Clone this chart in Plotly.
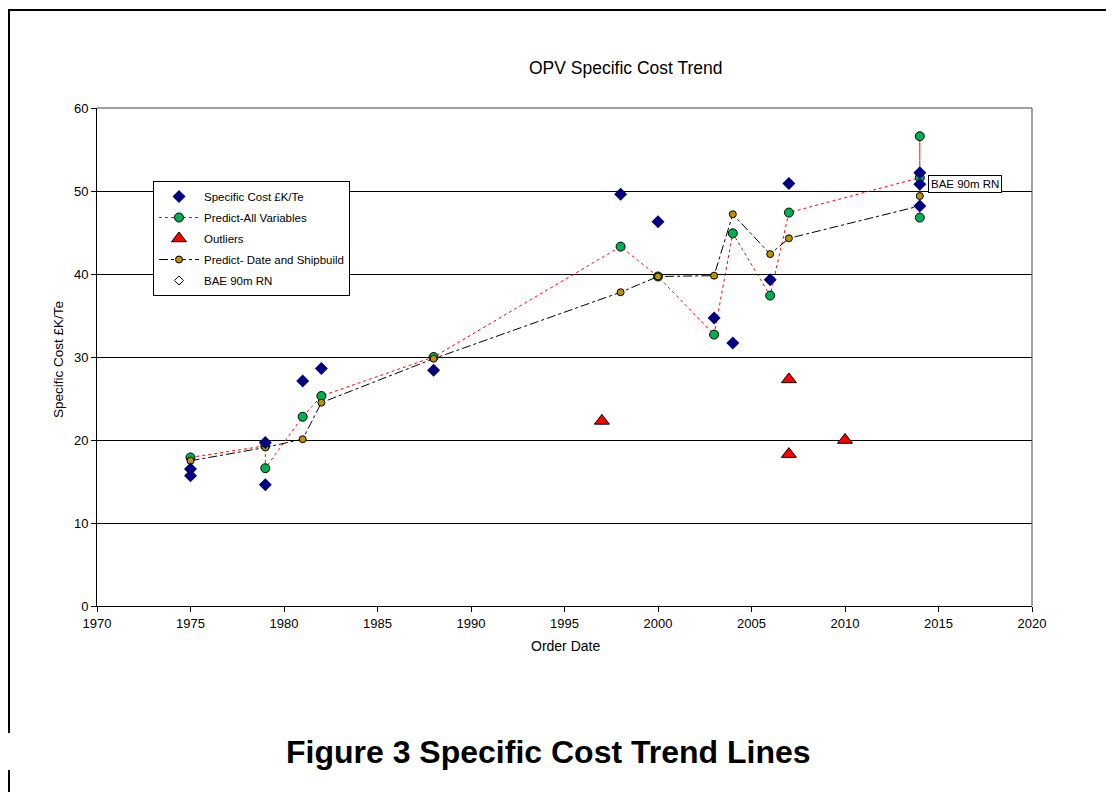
import plotly.graph_objects as go

# ─── Data ────────────────────────────────────────────────────
cost_year = [1975, 1975, 1979, 1979, 1981, 1982, 1988, 1998, 2000, 2003, 2004, 2006, 2007, 2014, 2014, 2014]
cost_val = [16.5, 15.7, 19.7, 14.6, 27.1, 28.6, 28.4, 49.6, 46.3, 34.7, 31.7, 39.3, 50.9, 52.2, 50.8, 48.2]

all_year = [1975, 1979, 1979, 1981, 1982, 1988, 1998, 2000, 2003, 2004, 2006, 2007, 2014, 2014, 2014]
all_val = [17.9, 19.3, 16.6, 22.8, 25.3, 30.0, 43.3, 39.7, 32.7, 44.9, 37.4, 47.4, 51.6, 56.6, 46.8]

out_year = [1997, 2007, 2007, 2010]
out_val = [22.3, 27.3, 18.3, 20.0]

date_year = [1975, 1979, 1981, 1982, 1988, 1998, 2000, 2003, 2004, 2006, 2007, 2014, 2014]
date_val = [17.5, 19.1, 20.1, 24.5, 29.8, 37.8, 39.7, 39.8, 47.2, 42.4, 44.3, 48.2, 49.4]

bae_year = [2014]
bae_val = [50.8]

# page offsets the figure by 8px; plot area on screen: x 97..1032, y 108..606
OFF = 8


def px(x):
    return (x - 97) / 935


def py(y):
    return (606 - y) / 498


fig = go.Figure()

fig.add_trace(go.Scatter(
    x=all_year, y=all_val, name='Predict-All Variables', mode='lines+markers',
    line=dict(color='#FF0000', width=1, dash='dot'),
    marker=dict(symbol='circle', size=9, color='#00B050', line=dict(color='black', width=1)),
    legendrank=2, legendgroup='b'
))
fig.add_trace(go.Scatter(
    x=date_year, y=date_val, name='Predict- Date and Shipbuild', mode='lines+markers',
    line=dict(color='black', width=1, dash='dashdot'),
    marker=dict(symbol='circle', size=7, color='#C09000', line=dict(color='black', width=1)),
    legendrank=4, legendgroup='d'
))
fig.add_trace(go.Scatter(
    x=out_year, y=out_val, name='Outliers', mode='markers',
    marker=dict(symbol='triangle-up', size=13, color='#FF0000', line=dict(color='black', width=1)),
    legendrank=3, legendgroup='c'
))
fig.add_trace(go.Scatter(
    x=bae_year, y=bae_val, name='BAE 90m RN', mode='markers',
    marker=dict(symbol='diamond', size=7, color='white', line=dict(color='black', width=1)),
    legendrank=5, legendgroup='e'
))
fig.add_trace(go.Scatter(
    x=cost_year, y=cost_val, name='Specific Cost £K/Te', mode='markers',
    marker=dict(symbol='diamond', size=10, color='#000080', line=dict(width=0)),
    legendrank=1, legendgroup='a'
))

txt = dict(family='Liberation Sans, Arial, sans-serif', color='black')

fig.add_annotation(x=bae_year[0], y=bae_val[0], xref='x', yref='y', text='BAE 90m RN',
                   showarrow=False, xanchor='left', yanchor='middle', xshift=8,
                   bordercolor='black', borderwidth=1, borderpad=2, bgcolor='white',
                   font=dict(size=11.5, **txt))

fig.add_annotation(x=px(626), y=py(68), xref='paper', yref='paper', text='OPV Specific Cost Trend',
                   showarrow=False, xanchor='center', yanchor='middle', font=dict(size=17.5, **txt))
fig.add_annotation(x=px(58), y=py(360), xref='paper', yref='paper', text='Specific Cost £K/Te',
                   showarrow=False, textangle=-90, xanchor='center', yanchor='middle',
                   font=dict(size=13.5, **txt))
fig.add_annotation(x=px(565), y=py(646), xref='paper', yref='paper', text='Order Date',
                   showarrow=False, xanchor='center', yanchor='middle', font=dict(size=14, **txt))
fig.add_annotation(x=px(548), y=py(752), xref='paper', yref='paper',
                   text='<b>Figure 3 Specific Cost Trend Lines</b>',
                   showarrow=False, xanchor='center', yanchor='middle', font=dict(size=32, **txt))

shapes = [
    # page frame
    dict(type='line', xref='paper', yref='paper', x0=px(8), x1=px(1114), y0=py(10), y1=py(10),
         line=dict(color='black', width=2)),
    dict(type='line', xref='paper', yref='paper', x0=px(9), x1=px(9), y0=py(9), y1=py(733),
         line=dict(color='black', width=2)),
    dict(type='line', xref='paper', yref='paper', x0=px(9), x1=px(9), y0=py(770), y1=py(792),
         line=dict(color='black', width=2)),
    # plot area border (top / right)
    dict(type='line', xref='paper', yref='paper', x0=0, x1=1, y0=1, y1=1,
         line=dict(color='#808080', width=1.5), layer='below'),
    dict(type='line', xref='paper', yref='paper', x0=1, x1=1, y0=0, y1=1,
         line=dict(color='#808080', width=1.5), layer='below'),
]

fig.update_layout(
    width=1114 - OFF, height=792 - OFF,
    margin=dict(l=97 - OFF, r=82, t=108 - OFF, b=186),
    paper_bgcolor='white', plot_bgcolor='white',
    font=dict(size=13, **txt),
    shapes=shapes,
    showlegend=True,
    legend=dict(
        x=px(153), y=py(181), xanchor='left', yanchor='top',
        bordercolor='black', borderwidth=1, bgcolor='white',
        font=dict(size=11.5, **txt), tracegroupgap=2, itemwidth=40
    ),
    xaxis=dict(
        range=[1970, 2020], tickvals=[1970, 1975, 1980, 1985, 1990, 1995, 2000, 2005, 2010, 2015, 2020],
        showgrid=False, zeroline=False, showline=True, linecolor='black', linewidth=1,
        ticks='outside', ticklen=5, tickcolor='black', tickfont=dict(size=13, **txt)
    ),
    yaxis=dict(
        range=[0, 60], dtick=10, showgrid=True, gridcolor='black', gridwidth=1,
        zeroline=False, showline=True, linecolor='black', linewidth=1,
        ticks='outside', ticklen=5, tickcolor='black', tickfont=dict(size=13, **txt)
    ),
)

fig.write_html("out.html")
